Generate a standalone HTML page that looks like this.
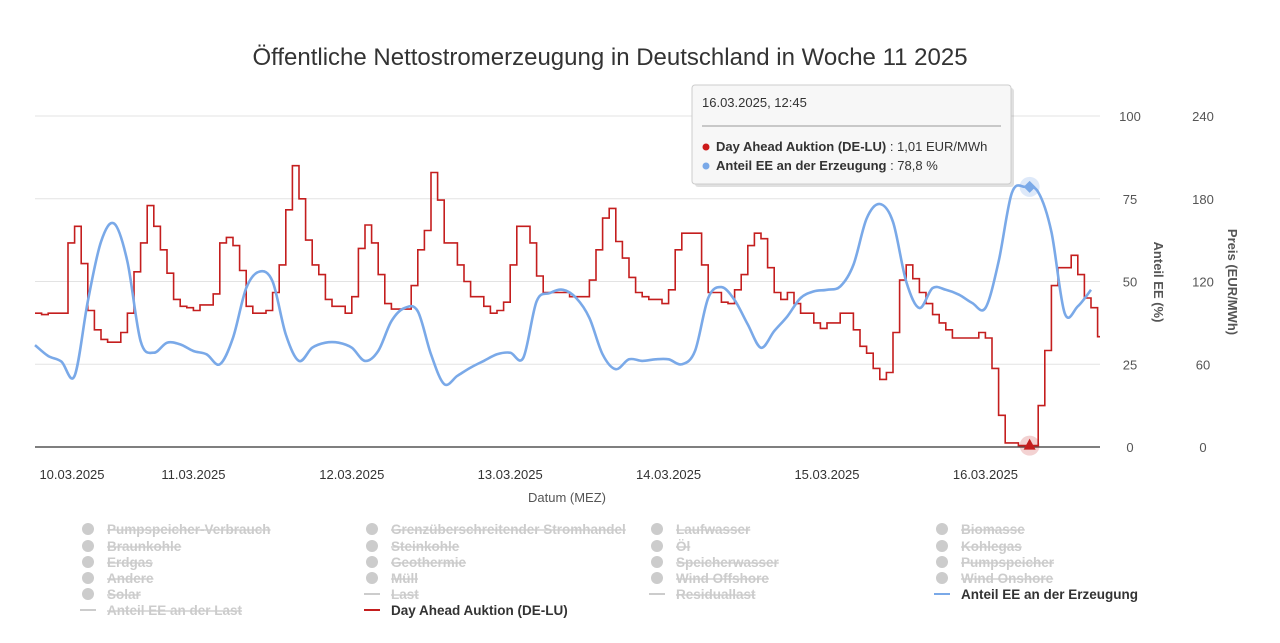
<!DOCTYPE html>
<html><head><meta charset="utf-8">
<style>
body{margin:0;background:#fff;font-family:"Liberation Sans",sans-serif;}
#wrap{position:relative;width:1280px;height:643px;overflow:hidden;}
svg text{font-family:"Liberation Sans",sans-serif;}
</style></head>
<body>
<div id="wrap">
<svg id="chart" width="1280" height="643">
<text x="610" y="65" text-anchor="middle" font-size="24" fill="#333">Öffentliche Nettostromerzeugung in Deutschland in Woche 11 2025</text>
<g id="grid"></g>
<g id="xaxis"></g>
<text x="567" y="502" text-anchor="middle" font-size="13" fill="#555">Datum (MEZ)</text>
<text transform="translate(1154,282) rotate(90)" text-anchor="middle" font-size="13" font-weight="bold" fill="#555">Anteil EE (%)</text>
<text transform="translate(1228,282) rotate(90)" text-anchor="middle" font-size="13" font-weight="bold" fill="#555">Preis (EUR/MWh)</text>
<g id="series"></g>
<g id="legend"></g>
<g id="tooltip">
<rect x="693" y="86" width="319" height="99" rx="3" fill="#000" opacity="0.12" transform="translate(2,2)"/>
<rect x="692" y="85" width="319" height="99" rx="3" fill="#f7f7f7" stroke="#ccc"/>
<text x="702" y="107" font-size="13" fill="#333">16.03.2025, 12:45</text>
<line x1="702" y1="126" x2="1001" y2="126" stroke="#999" stroke-width="1"/>
<circle cx="706" cy="147" r="3.5" fill="#cc1a1a"/>
<text x="716" y="151" font-size="13" fill="#333"><tspan font-weight="bold">Day Ahead Auktion (DE-LU)</tspan> : 1,01 EUR/MWh</text>
<circle cx="706" cy="166" r="3.5" fill="#7aa9e8"/>
<text x="716" y="170" font-size="13" fill="#333"><tspan font-weight="bold">Anteil EE an der Erzeugung</tspan> : 78,8 %</text>
</g>
</svg>
</div>
<script>
const dayLabels=["10.03.2025","11.03.2025","12.03.2025","13.03.2025","14.03.2025","15.03.2025","16.03.2025"];
const eeTicks=[0,25,50,75,100];
const priceTicks=[0,60,120,180,240];
// hourly Day-Ahead price (EUR/MWh), from 10.03 00:00
const priceValues=[97,96,97,97,97,148,160,133,99,85,78,76,76,83,97,127,148,175,160,143,126,107,102,101,
99,103,103,111,148,152,146,128,102,97,97,99,112,132,172,204,180,150,132,125,107,102,102,97,
109,144,161,148,125,104,100,100,100,117,143,157,199,179,148,148,132,120,109,109,102,97,99,105,
132,160,160,148,124,112,112,112,112,109,109,109,121,143,166,173,149,137,123,112,109,107,107,104,
114,143,155,155,155,132,112,112,105,104,114,125,146,155,151,130,112,107,112,104,97,97,90,86,
90,90,97,97,85,73,68,57,49,54,83,121,132,122,112,104,96,90,85,79,79,79,79,83,
79,57,23,3,3,1,1,1,30,70,117,130,130,139,125,108,101,80];
// 2-hourly share of renewables in generation (%)
const eeValues=[30.8,27.5,25.8,21.5,44,62,67.5,56,32,28.5,31.5,31,
29,28,25,33,48,53,50,34,26,30,31.5,31.5,
30,26,29,38,42,41,28,19,21.5,24,26,28,
28.5,27,44,46.5,47.5,45,39,28,23.5,26.5,26,26.5,
26.5,25,29,45,48.3,44.4,37,30,35,39.5,45,47,
47.5,48.5,55,69,73.4,68,50,42,48,47.5,46,43.5,
42,56,76.7,78.6,77,65,40.5,42.5,47.5];
const eeStepHours=2;
const hoverHour=150.7;

const X0=35,X1=1100,Y0=447,Y1=116;
const xs=h=>X0+(h*(158.4/24));
const yEE=v=>Y0-(v/100)*(Y0-Y1);
const yP=v=>Y0-(v/240)*(Y0-Y1);
const NS="http://www.w3.org/2000/svg";
function mk(tag,attrs,parent){const e=document.createElementNS(NS,tag);for(const k in attrs)e.setAttribute(k,attrs[k]);parent.appendChild(e);return e;}

const grid=document.getElementById('grid');
eeTicks.forEach((t,i)=>{
  const y=yEE(t);
  const l=mk('line',{x1:X0,x2:X1,y1:y,y2:y,stroke:i===0?'#333':'#e3e3e3','stroke-width':i===0?1.3:1},grid);
  
  
  const t1=mk('text',{x:1130,y:y+5,'text-anchor':'middle','font-size':13,fill:'#555'},grid);
  t1.textContent=t;
  
  
  const t2=mk('text',{x:1203,y:y+5,'text-anchor':'middle','font-size':13,fill:'#555'},grid);
  t2.textContent=priceTicks[i];
  
  
});
const xa=document.getElementById('xaxis');
dayLabels.forEach((d,i)=>{
  let x=xs(i*24); if(i===0)x=72;
  const t=mk('text',{x:x,y:479,'text-anchor':'middle','font-size':13,fill:'#333'},xa);
  t.textContent=d;
  
  
});

const ser=document.getElementById('series');
let d='';
priceValues.forEach((v,h)=>{
  const x=xs(h),y=yP(v);
  d+=(h===0?'M'+x.toFixed(1)+','+y.toFixed(1):'V'+y.toFixed(1));
  const xe=Math.min(xs(h+1),X1);
  d+='H'+xe.toFixed(1);
});
const pl=mk('path',{d:d,fill:'none',stroke:'#c41e1e','stroke-width':1.6},ser);


// smoothed EE line (Catmull-Rom)
const pts=eeValues.map((v,i)=>[xs(i*eeStepHours),yEE(v)]);
let d2='M'+pts[0][0].toFixed(1)+','+pts[0][1].toFixed(1);
for(let i=0;i<pts.length-1;i++){
  const p0=pts[Math.max(0,i-1)],p1=pts[i],p2=pts[i+1],p3=pts[Math.min(pts.length-1,i+2)];
  const c1=[p1[0]+(p2[0]-p0[0])/6,p1[1]+(p2[1]-p0[1])/6];
  const c2=[p2[0]-(p3[0]-p1[0])/6,p2[1]-(p3[1]-p1[1])/6];
  d2+=`C${c1[0].toFixed(1)},${c1[1].toFixed(1)} ${c2[0].toFixed(1)},${c2[1].toFixed(1)} ${p2[0].toFixed(1)},${p2[1].toFixed(1)}`;
}
const el=mk('path',{d:d2,fill:'none',stroke:'#7aa9e8','stroke-width':2.6,'stroke-linejoin':'round'},ser);


const hx=xs(hoverHour);
const hy=yEE(eeValues[Math.round(hoverHour/eeStepHours)]);
mk('circle',{cx:hx,cy:hy,r:10,fill:'#7aa9e8',opacity:0.25},ser);
const dm=mk('path',{d:`M${hx},${hy-6}L${hx+6},${hy}L${hx},${hy+6}L${hx-6},${hy}Z`,fill:'#7aa9e8'},ser);


const py=yP(priceValues[Math.floor(hoverHour)]);
mk('circle',{cx:hx,cy:py,r:10,fill:'#c41e1e',opacity:0.2},ser);
const tr=mk('path',{d:`M${hx},${py-7}L${hx+6},${py+4}L${hx-6},${py+4}Z`,fill:'#c41e1e'},ser);



const legendCols=[80,364,649,934];
const legendRows=[529,546,562,578,594,610];
const legendItems=[
[0,0,'c','Pumpspeicher-Verbrauch'],[1,0,'c','Grenzüberschreitender Stromhandel'],[2,0,'c','Laufwasser'],[3,0,'c','Biomasse'],
[0,1,'c','Braunkohle'],[1,1,'c','Steinkohle'],[2,1,'c','Öl'],[3,1,'c','Kohlegas'],
[0,2,'c','Erdgas'],[1,2,'c','Geothermie'],[2,2,'c','Speicherwasser'],[3,2,'c','Pumpspeicher'],
[0,3,'c','Andere'],[1,3,'c','Müll'],[2,3,'c','Wind Offshore'],[3,3,'c','Wind Onshore'],
[0,4,'c','Solar'],[1,4,'l','Last'],[2,4,'l','Residuallast'],[3,4,'blue','Anteil EE an der Erzeugung'],
[0,5,'l','Anteil EE an der Last'],[1,5,'red','Day Ahead Auktion (DE-LU)']];
const lg=document.getElementById('legend');
legendItems.forEach(([c,r,type,label])=>{
  const g=mk('g',{},lg);
  
  
  const x=legendCols[c],y=legendRows[r];
  const active=(type==='red'||type==='blue');
  if(type==='c')mk('circle',{cx:x+8,cy:y,r:6,fill:'#cccccc'},g);
  else mk('line',{x1:x,x2:x+16,y1:y,y2:y,stroke:type==='red'?'#c41e1e':type==='blue'?'#7aa9e8':'#cccccc','stroke-width':2},g);
  const t=mk('text',{x:x+27,y:y+5,'font-size':13.5,'font-weight':'bold',fill:active?'#333':'#cccccc','text-decoration':active?'none':'line-through'},g);
  t.textContent=label;
});
</script>
</body></html>
